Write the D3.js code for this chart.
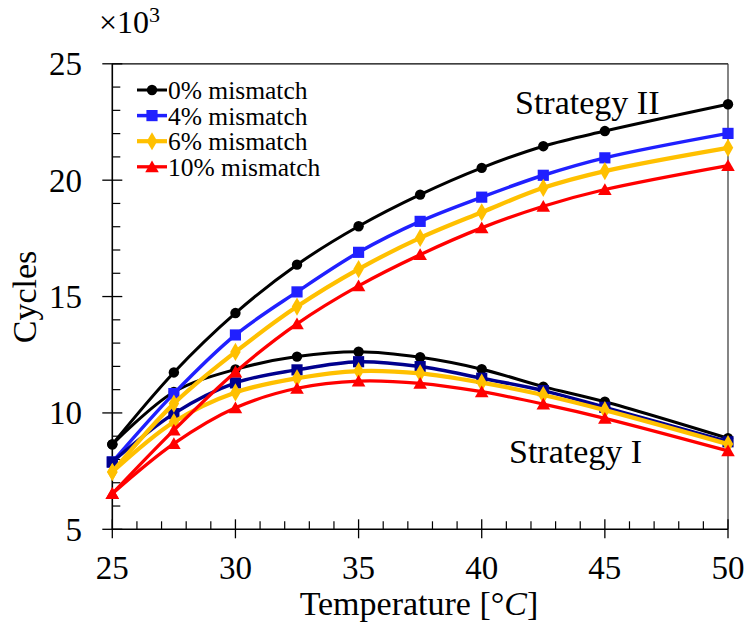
<!DOCTYPE html>
<html>
<head>
<meta charset="utf-8">
<script src="https://cdn.jsdelivr.net/npm/d3@7/dist/d3.min.js"></script>
<style>
  html, body { margin: 0; padding: 0; background: #fff; }
  svg text, svg tspan { font-family: "Liberation Serif", "Times New Roman", Times, serif; }
</style>
</head>
<body>
<svg id="chart" width="750" height="629"></svg>
<script>
// Temperature sweep (°C)
const temperature = [25, 27.5, 30, 32.5, 35, 37.5, 40, 42.5, 45, 50];

// Cycles (×10^3), Strategy II
const s2_m0  = [8.65, 11.74, 14.29, 16.37, 18.02, 19.38, 20.53, 21.46, 22.11, 23.26];
const s2_m4  = [7.89, 10.83, 13.35, 15.20, 16.90, 18.23, 19.27, 20.21, 20.96, 22.01];
const s2_m6  = [7.46, 10.40, 12.62, 14.57, 16.18, 17.52, 18.62, 19.67, 20.39, 21.39];
const s2_m10 = [6.53,  9.26, 11.76, 13.83, 15.46, 16.80, 17.95, 18.88, 19.60, 20.63];

// Cycles (×10^3), Strategy I
const s1_m0  = [8.65, 10.90, 11.87, 12.42, 12.63, 12.39, 11.88, 11.13, 10.48, 8.91];
const s1_m4  = [7.89,  9.97, 11.29, 11.85, 12.20, 11.99, 11.49, 10.96, 10.24, 8.76];
const s1_m6  = [7.46,  9.61, 10.88, 11.49, 11.80, 11.70, 11.30, 10.77, 10.12, 8.66];
const s1_m10 = [6.53,  8.68, 10.22, 11.06, 11.37, 11.27, 10.91, 10.38,  9.77, 8.37];

const legendLabels = ["0% mismatch", "4% mismatch", "6% mismatch", "10% mismatch"];
const xTicks = [25, 30, 35, 40, 45, 50];
const yTicks = [5, 10, 15, 20, 25];

const SERIF = "'Liberation Serif', 'Times New Roman', Times, serif";
const svg = d3.select("#chart");
const pLeft = 112.3, pRight = 728, pTop = 63.8, pBottom = 529.3;

const x = d3.scaleLinear().domain([25, 50]).range([pLeft, pRight]);
const y = d3.scaleLinear().domain([5, 25]).range([pBottom, pTop]);

// series styles
const styles = [
  { color: "#000000", color1: "#000000", shape: "circle",   width: 3.0 },
  { color: "#2020ff", color1: "#00008e", shape: "square",   width: 3.5 },
  { color: "#ffc000", color1: "#ffc000", shape: "diamond",  width: 4.2 },
  { color: "#ff0000", color1: "#ff0000", shape: "triangle", width: 3.3 }
];
const strat2 = [s2_m0, s2_m4, s2_m6, s2_m10];
const strat1 = [s1_m0, s1_m4, s1_m6, s1_m10];

const symbolOf = {
  circle:   d3.symbol().type(d3.symbolCircle).size(85),
  square:   d3.symbol().type(d3.symbolSquare).size(125),
  diamond:  d3.symbol().type(d3.symbolDiamond).size(95),
  triangle: d3.symbol().type(d3.symbolTriangle).size(80)
};

// frame
svg.append("line").attr("x1", pLeft).attr("x2", pRight).attr("y1", pTop).attr("y2", pTop)
  .attr("stroke", "#000").attr("stroke-width", 1.2);
svg.append("line").attr("x1", pRight).attr("x2", pRight).attr("y1", pTop).attr("y2", pBottom)
  .attr("stroke", "#333").attr("stroke-width", 1.2);

// x axis ticks
const xMinor = d3.range(25, 51, 1).filter(v => v % 5 !== 0);
const gx = svg.append("g");
gx.selectAll("line.minor").data(xMinor).join("line")
  .attr("class", "minor")
  .attr("x1", d => x(d)).attr("x2", d => x(d))
  .attr("y1", pBottom).attr("y2", pBottom - 8)
  .attr("stroke", "#000").attr("stroke-width", 1.2);
gx.selectAll("line.major").data(xTicks).join("line")
  .attr("class", "major")
  .attr("x1", d => x(d)).attr("x2", d => x(d))
  .attr("y1", pBottom + 9).attr("y2", pBottom - 10)
  .attr("stroke", "#000").attr("stroke-width", 1.3);
gx.selectAll("text").data(xTicks).join("text")
  .attr("x", d => x(d)).attr("y", 579)
  .attr("text-anchor", "middle").attr("font-size", 33)
  .text(d => d);

// y axis ticks
const yMinor = d3.range(5, 26, 1).filter(v => v % 5 !== 0);
const gy = svg.append("g");
gy.selectAll("line.minor").data(yMinor).join("line")
  .attr("class", "minor")
  .attr("x1", pLeft).attr("x2", pLeft + 8)
  .attr("y1", d => y(d)).attr("y2", d => y(d))
  .attr("stroke", "#000").attr("stroke-width", 1.2);
gy.selectAll("line.major").data(yTicks).join("line")
  .attr("class", "major")
  .attr("x1", pLeft - 10).attr("x2", pLeft + 10)
  .attr("y1", d => y(d)).attr("y2", d => y(d))
  .attr("stroke", "#000").attr("stroke-width", 1.3);
gy.selectAll("text").data(yTicks).join("text")
  .attr("x", 82).attr("y", d => y(d))
  .attr("dy", "0.35em")
  .attr("text-anchor", "end").attr("font-size", 33)
  .text(d => d);

// axis lines
svg.append("line").attr("x1", pLeft).attr("x2", pRight).attr("y1", pBottom).attr("y2", pBottom)
  .attr("stroke", "#000").attr("stroke-width", 1.6);
svg.append("line").attr("x1", pLeft).attr("x2", pLeft).attr("y1", pTop).attr("y2", pBottom)
  .attr("stroke", "#000").attr("stroke-width", 1.6);

// axis titles
svg.append("text")
  .attr("transform", "translate(36,297) rotate(-90)")
  .attr("text-anchor", "middle").attr("font-size", 34)
  .text("Cycles");

const xt = svg.append("text")
  .attr("x", 419).attr("y", 615)
  .attr("text-anchor", "middle").attr("font-size", 34);
xt.append("tspan").text("Temperature [°");
xt.append("tspan").attr("font-style", "italic").text("C");
xt.append("tspan").text("]");

const mult = svg.append("text").attr("x", 99).attr("y", 33).attr("font-size", 32);
mult.append("tspan").text("×10");
mult.append("tspan").attr("font-size", 22).attr("dy", -11).text("3");

// curves
const line = d3.line()
  .x((d, i) => x(temperature[i]))
  .y(d => y(d))
  .curve(d3.curveCatmullRom.alpha(0.5));

const plot = svg.append("g");
function drawSeries(values, color, st) {
  plot.append("path")
    .attr("d", line(values))
    .attr("fill", "none")
    .attr("stroke", color)
    .attr("stroke-width", st.width)
    .attr("stroke-linejoin", "round");
  plot.append("g").selectAll("path").data(values).join("path")
    .attr("transform", (d, i) => `translate(${x(temperature[i])},${y(d) + (st.shape === "triangle" ? 1.5 : 0)})`)
    .attr("d", symbolOf[st.shape]())
    .attr("fill", color);
}
styles.forEach((st, k) => {
  drawSeries(strat2[k], st.color, st);
  drawSeries(strat1[k], st.color1, st);
});

// strategy labels
svg.append("text").attr("x", 515).attr("y", 114).attr("font-size", 34).text("Strategy II");
svg.append("text").attr("x", 509).attr("y", 463).attr("font-size", 34).text("Strategy I");

// legend
const legendY = [90, 115.6, 141.2, 166.8];
const lg = svg.append("g");
styles.forEach((st, k) => {
  const cy = legendY[k];
  lg.append("line").attr("x1", 137).attr("x2", 167).attr("y1", cy).attr("y2", cy)
    .attr("stroke", st.color).attr("stroke-width", st.width);
  lg.append("path")
    .attr("transform", `translate(152,${cy + (st.shape === "triangle" ? 1.5 : 0)})`)
    .attr("d", symbolOf[st.shape]())
    .attr("fill", st.color);
  lg.append("text").attr("x", 168).attr("y", cy + 9)
    .attr("font-size", 25.5).text(legendLabels[k]);
});

// one serif face for every label
svg.selectAll("text").attr("font-family", SERIF);
</script>
</body>
</html>
